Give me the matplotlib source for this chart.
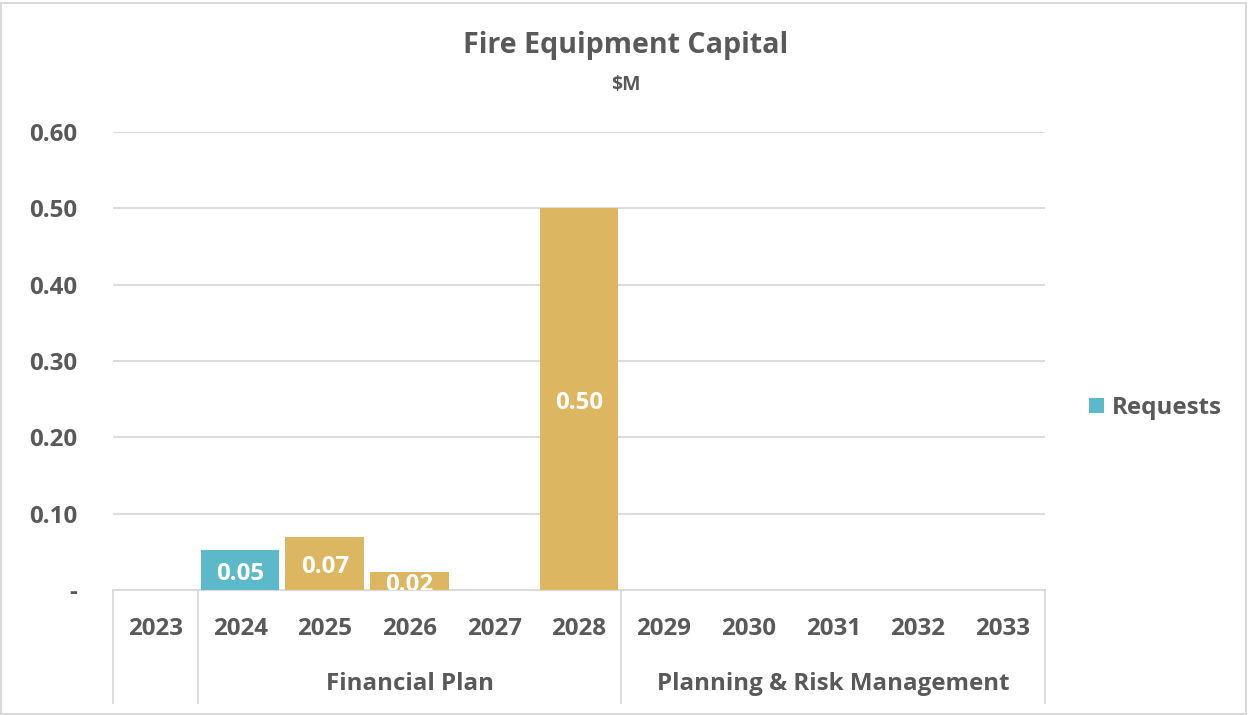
import matplotlib
matplotlib.use("Agg")
import matplotlib.pyplot as plt
from matplotlib.patches import Rectangle, Patch
from matplotlib.transforms import blended_transform_factory

plt.rcParams['font.family'] = ['Open Sans', 'DejaVu Sans']
plt.rcParams['font.weight'] = 'bold'

years = ['2023', '2024', '2025', '2026', '2027', '2028',
         '2029', '2030', '2031', '2032', '2033']
requests = [0, 0.052, 0, 0, 0, 0, 0, 0, 0, 0, 0]
planned = [0, 0, 0.07, 0.024, 0, 0.50, 0, 0, 0, 0, 0]
groups = ['', 'Financial Plan', 'Planning & Risk Management']
group_spans = [(0, 0), (1, 5), (6, 10)]
yticks = [0, 0.1, 0.2, 0.3, 0.4, 0.5, 0.6]

TEAL = '#5BB9C9'
GOLD = '#DDB661'
TEXT = '#595959'
GRID = '#D9D9D9'
FS = 17.4

W, H = 1248, 715
fig = plt.figure(figsize=(W / 100, H / 100), dpi=100)
fig.patches.append(Rectangle((1 / W, 1 / H), 1 - 3 / W, 1 - 4 / H,
                             transform=fig.transFigure, fill=False,
                             edgecolor=GRID, linewidth=1.5))

left, right, top, bottom = 113, 1045, 132, 590
ax = fig.add_axes([left / W, 1 - bottom / H, (right - left) / W, (bottom - top) / H])

x = list(range(len(years)))
bw = 0.93
b1 = ax.bar(x, requests, width=bw, color=TEAL, zorder=3)
b2 = ax.bar(x, planned, width=bw, color=GOLD, zorder=3)

for bars, vals in ((b1, requests), (b2, planned)):
    for rect, v in zip(bars, vals):
        if v > 0:
            ax.annotate(f'{v:.2f}', (rect.get_x() + rect.get_width() / 2, v / 2),
                        xytext=(0, -3), textcoords='offset points',
                        ha='center', va='center', color='white', fontsize=FS,
                        fontweight='bold', zorder=4, annotation_clip=False,
                        clip_on=True)

ax.set_xlim(-0.5, len(years) - 0.5)
ax.set_ylim(0, 0.6)
ax.set_yticks(yticks)
ax.set_yticklabels(['-' if t == 0 else f'{t:.2f}' for t in yticks])
ax.tick_params(axis='y', length=0, pad=26, labelsize=FS, labelcolor=TEXT)
for lbl in ax.get_yticklabels():
    lbl.set_fontweight('bold')
ax.set_xticks([])
for s in ax.spines.values():
    s.set_visible(False)
ax.grid(axis='y', color=GRID, linewidth=1.3, zorder=0)
ax.set_axisbelow(True)

# multi-level category axis
tr = blended_transform_factory(ax.transData, ax.transAxes)
depth = -(703 - bottom) / (bottom - top)
ax.plot([-0.5, len(years) - 0.5], [0, 0], transform=tr, color=GRID,
        linewidth=1.3, clip_on=False, zorder=2)
for xv in (-0.5, 0.5, 5.5, len(years) - 0.5):
    ax.plot([xv, xv], [0, depth], transform=tr, color=GRID, linewidth=1.3,
            clip_on=False)
for xi, yr in zip(x, years):
    ax.text(xi, -(629 - bottom) / (bottom - top), yr, transform=tr,
            ha='center', va='center', fontsize=FS, color=TEXT, fontweight='bold')
for name, (a, b) in zip(groups, group_spans):
    if name:
        ax.text((a + b) / 2, -(684 - bottom) / (bottom - top), name, transform=tr,
                ha='center', va='center', fontsize=FS, color=TEXT, fontweight='bold')

fig.text(626 / W, 1 - 46 / H, 'Fire Equipment Capital', ha='center', va='center',
         fontsize=20.6, color=TEXT, fontweight='bold')
fig.text(626 / W, 1 - 85 / H, '$M', ha='center', va='center',
         fontsize=14, color=TEXT, fontweight='bold')

leg = fig.legend(handles=[Patch(facecolor=TEAL, label='Requests')],
                 loc='center left', bbox_to_anchor=(1089 / W, 1 - 408 / H),
                 bbox_transform=fig.transFigure, frameon=False,
                 handlelength=0.6, handleheight=0.6, handletextpad=0.35,
                 borderaxespad=0, borderpad=0, fontsize=FS)
for t in leg.get_texts():
    t.set_color(TEXT)
    t.set_fontweight('bold')

fig.savefig('out.png', dpi=100)
